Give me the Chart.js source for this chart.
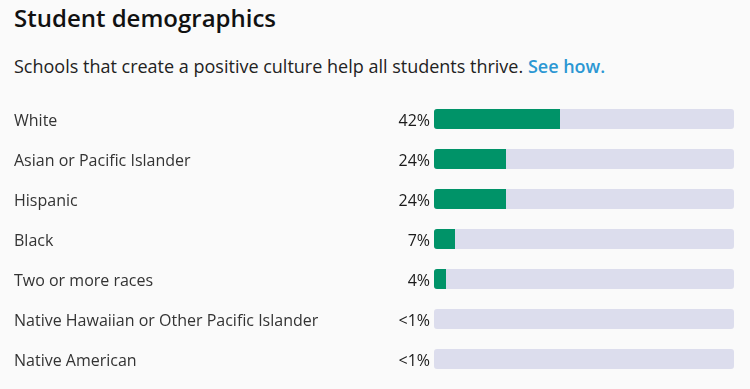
<!DOCTYPE html>
<html>
<head>
<meta charset="utf-8">
<script src="https://cdn.jsdelivr.net/npm/chart.js@4"></script>
<style>
  html, body { margin: 0; padding: 0; background: #fafafa; }
  body { width: 750px; height: 389px; position: relative; overflow: hidden; font-family: "Open Sans", sans-serif; }
  #titel { position: absolute; left: 14px; top: 1px; margin: 0; font-size: 24px; font-weight: 600; color: #111; line-height: 33px; }
  #podnaslov { position: absolute; left: 14px; top: 54px; margin: 0; font-size: 18px; color: #222; line-height: 25px; }
  #podnaslov a { color: #2b97d3; font-weight: 600; text-decoration: none; }
  #chart-container { position: absolute; left: 0; top: 0; width: 750px; height: 389px; }
</style>
</head>
<body>
<h2 id="titel">Student demographics</h2>
<p id="podnaslov">Schools that create a positive culture help all students thrive. <a href="#">See how.</a></p>
<div id="chart-container"><canvas id="grafikon" width="750" height="389"></canvas></div>
<script>
const kategorije = ['White', 'Asian or Pacific Islander', 'Hispanic', 'Black', 'Two or more races', 'Native Hawaiian or Other Pacific Islander', 'Native American'];
const postoci = [42, 24, 24, 7, 4, 0, 0];
const oznakePostotaka = ['42%', '24%', '24%', '7%', '4%', '<1%', '<1%'];
const pozadina = kategorije.map(() => 100);

// spusti oznake osi za 2px da budu poravnate s trakama
const pomakOsi = {
    id: 'pomakOsi',
    beforeDraw(chart) {
        chart.ctx.save();
        chart.ctx.translate(0, 2);
    },
    beforeDatasetsDraw(chart) {
        chart.ctx.restore();
    }
};

// ispisuje postotak lijevo od svake trake
const oznakePlugin = {
    id: 'oznakePostotaka',
    afterDatasetsDraw(chart) {
        const ctx = chart.ctx;
        const yScale = chart.scales.y;
        ctx.save();
        ctx.font = '16px "Open Sans", sans-serif';
        ctx.fillStyle = '#1a1a1a';
        ctx.textAlign = 'right';
        ctx.textBaseline = 'middle';
        oznakePostotaka.forEach((tekst, i) => {
            ctx.fillText(tekst, chart.chartArea.left - 4, yScale.getPixelForValue(i) + 2);
        });
        ctx.restore();
    }
};

new Chart(document.getElementById('grafikon'), {
    type: 'bar',
    data: {
        labels: kategorije,
        datasets: [{
            data: postoci,
            backgroundColor: '#009368',
            borderRadius: { topLeft: 3, bottomLeft: 3, topRight: 0, bottomRight: 0 },
            borderSkipped: false,
            grouped: false
        }, {
            data: pozadina,
            backgroundColor: '#dcdded',
            borderRadius: 3,
            borderSkipped: false,
            grouped: false
        }]
    },
    options: {
        indexAxis: 'y',
        responsive: false,
        animation: false,
        maintainAspectRatio: false,
        barPercentage: 0.5,
        categoryPercentage: 1,
        layout: { padding: { left: 14, right: 16, top: 99, bottom: 10 } },
        plugins: { legend: { display: false }, tooltip: { enabled: false } },
        scales: {
            x: { min: 0, max: 100, display: false },
            y: {
                grid: { display: false },
                border: { display: false },
                ticks: {
                    crossAlign: 'far',
                    color: '#333',
                    padding: 0,
                    font: { family: '"Open Sans", sans-serif', size: 16 }
                },
                afterFit(scale) { scale.width = 420; }
            }
        }
    },
    plugins: [pomakOsi, oznakePlugin]
});
</script>
</body>
</html>
